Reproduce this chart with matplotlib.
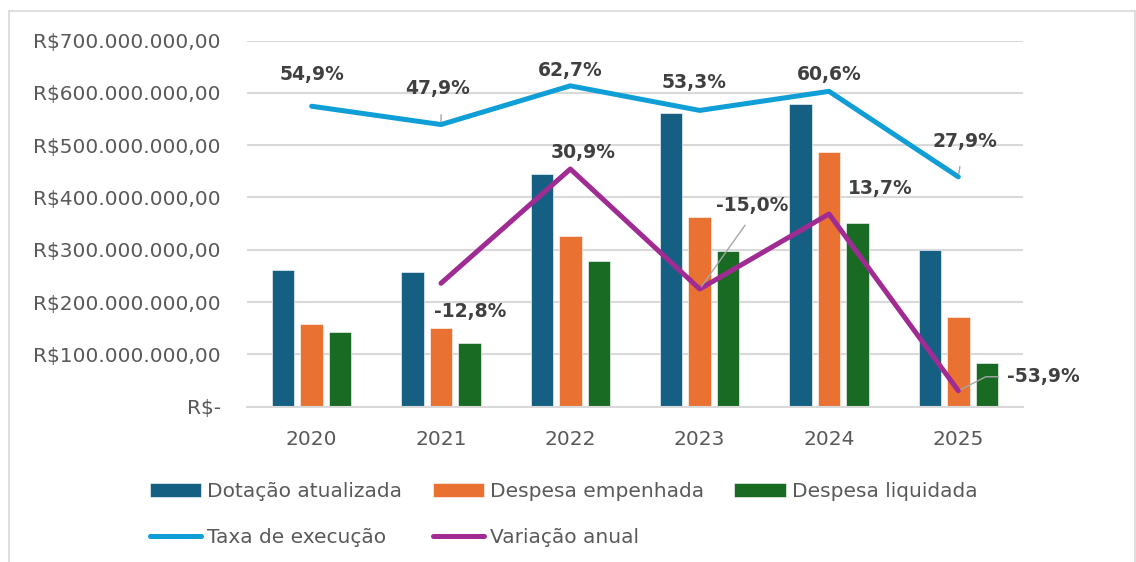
import numpy as np
import matplotlib.pyplot as plt
from matplotlib.lines import Line2D
from matplotlib.ticker import FuncFormatter

plt.rcParams['font.family'] = 'DejaVu Sans'

# data
anos = ['2020', '2021', '2022', '2023', '2024', '2025']
dotacao = [261e6, 258e6, 445e6, 561e6, 579e6, 300e6]
empenhada = [158e6, 150e6, 327e6, 363e6, 487e6, 171e6]
liquidada = [142e6, 122e6, 279e6, 298e6, 351e6, 83e6]
taxa = [0.549, 0.479, 0.627, 0.533, 0.606, 0.279]
variacao = [np.nan, -0.128, 0.309, -0.150, 0.137, -0.539]

# label offsets (pixels) relative to each point
taxa_off = [(0, 32), (-3, 36), (0, 15), (-6, 28), (0, 17), (7, 35)]
var_off = [None, (29, -28), (13, 16), (53, 84), (51, 25), (85, 14)]

c_dot = '#156082'
c_emp = '#E97132'
c_liq = '#196B24'
c_taxa = '#0F9ED5'
c_var = '#A02B93'
c_txt = '#595959'
c_lbl = '#404040'
c_grid = '#D9D9D9'

W, H = 1136, 562
fig = plt.figure(figsize=(W / 100, H / 100), dpi=100)
ax = fig.add_axes([247 / W, 1 - 406.7 / H, (1023 - 247) / W, (406.7 - 40.6) / H])

x = np.arange(len(anos))
bw = 0.174
off = 0.22
ax.bar(x - off, dotacao, bw, color=c_dot, edgecolor='white', linewidth=0.4, label='Dotação atualizada', zorder=2)
ax.bar(x, empenhada, bw, color=c_emp, edgecolor='white', linewidth=0.4, label='Despesa empenhada', zorder=2)
ax.bar(x + off, liquidada, bw, color=c_liq, edgecolor='white', linewidth=0.4, label='Despesa liquidada', zorder=2)

ax.set_xlim(-0.5, len(anos) - 0.5)
ax.set_ylim(0, 700e6)
ax.set_yticks(np.arange(0, 700e6 + 1, 100e6))


def brl(v, pos):
    if v == 0:
        return 'R$-'
    s = f'{v:,.2f}'.replace(',', 'X').replace('.', ',').replace('X', '.')
    return 'R$' + s


ax.yaxis.set_major_formatter(FuncFormatter(brl))
ax.set_xticks(x)
ax.set_xticklabels(anos)
ax.tick_params(axis='y', length=0, pad=19, labelsize=14.5, labelcolor=c_txt)
ax.tick_params(axis='x', length=0, pad=17, labelsize=14.5, labelcolor=c_txt)
ax.grid(True, axis='y', color=c_grid, linewidth=1.5, zorder=0)
ax.set_axisbelow(True)
for sp in ['top', 'right', 'left']:
    ax.spines[sp].set_visible(False)
ax.spines['bottom'].set_color(c_grid)
ax.spines['bottom'].set_linewidth(1.5)

# secondary axis for percentages (hidden)
ax2 = ax.twinx()
ax2.set_ylim(-0.6, 0.8)
ax2.set_yticks([])
for sp in ax2.spines.values():
    sp.set_visible(False)
ax2.plot(x, taxa, color=c_taxa, linewidth=3.6, solid_capstyle='round', label='Taxa de execução', zorder=3)
ax2.plot(x, variacao, color=c_var, linewidth=3.6, solid_capstyle='round', label='Variação anual', zorder=3)


def pct(v):
    return f'{v * 100:.1f}%'.replace('.', ',')


lead = dict(arrowstyle='-', color='#A6A6A6', lw=1, shrinkB=2)
for i, v in enumerate(taxa):
    dx, dy = taxa_off[i]
    ap = None
    if i == 1:
        ap = dict(lead, shrinkA=10, relpos=(0.55, 0))
    if i == 5:
        ap = dict(lead, shrinkA=9, relpos=(0.45, 0))
    ax2.annotate(pct(v), (x[i], v), xytext=(dx, dy), textcoords='offset pixels',
                 ha='center', va='center', fontsize=13.5, fontweight='bold', color=c_lbl,
                 arrowprops=ap, zorder=5)

for i, v in enumerate(variacao):
    if var_off[i] is None:
        continue
    dx, dy = var_off[i]
    ap = None
    if i == 3:
        ap = dict(lead, shrinkA=7, relpos=(0.5, 0))
    if i == 5:
        ap = dict(lead, shrinkA=4, relpos=(0, 0.5),
                  connectionstyle='angle,angleA=0,angleB=27,rad=0')
    ax2.annotate(pct(v), (x[i], v), xytext=(dx, dy), textcoords='offset pixels',
                 ha='center', va='center', fontsize=13.5, fontweight='bold', color=c_lbl,
                 arrowprops=ap, zorder=5)

# legend
h1, l1 = ax.get_legend_handles_labels()
h2, l2 = ax2.get_legend_handles_labels()
handles = [h1[0], h2[0], h1[1], h2[1], h1[2]]
labels = [l1[0], l2[0], l1[1], l2[1], l1[2]]
fig.legend(handles, labels, loc='upper left', bbox_to_anchor=(150 / W, 1 - 482 / H),
           ncol=3, frameon=False, fontsize=14.5, labelcolor=c_txt,
           handlelength=2.55, handleheight=0.7, handletextpad=0.3,
           columnspacing=1.5, labelspacing=1.35, borderpad=0, borderaxespad=0)

# outer frame
fc = '#D9D9D9'
fig.add_artist(Line2D([8.5 / W, 8.5 / W], [0, 1 - 11 / H], color=fc, lw=1.2))
fig.add_artist(Line2D([8.5 / W, 1134.5 / W], [1 - 11 / H, 1 - 11 / H], color=fc, lw=1.2))
fig.add_artist(Line2D([1134.5 / W, 1134.5 / W], [0, 1 - 11 / H], color=fc, lw=1.2))

fig.savefig('out.png', dpi=100, facecolor='white')
